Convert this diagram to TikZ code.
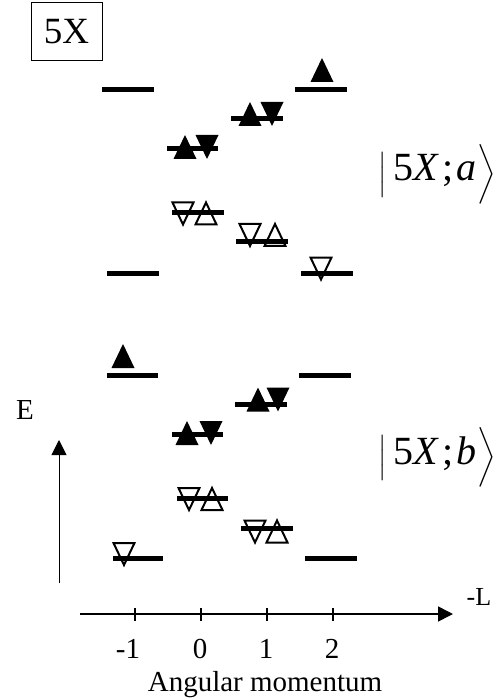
\documentclass[tikz,border=0pt]{standalone}
\usepackage{fontspec}
\usepackage{amsmath}
\setmainfont{Liberation Serif}
\usetikzlibrary{arrows.meta}
\newcommand\ketbar{$\left|\vrule height 29pt depth 10pt width 0pt\right.$\kern6pt}
\newcommand\ketend{$\left.\vrule height 34pt depth 14pt width 0pt\right\rangle$}
\begin{document}
\begin{tikzpicture}[x=1pt,y=-1pt,
  lvl/.style={line width=5pt},
  lab/.style={font=\fontsize{29}{30}\selectfont, inner sep=0pt, anchor=base},
  ket/.style={font=\fontsize{40}{42}\selectfont, inner sep=0pt, anchor=base west},
  upf/.pic={\fill (-11.5,12)--(11.5,12)--(0,-12)--cycle;},
  dnf/.pic={\fill (-11.5,-12)--(11.5,-12)--(0,12)--cycle;},
  upo/.pic={\draw[line width=2pt,line join=miter] (-10.5,11)--(10.5,11)--(0,-11)--cycle;},
  dno/.pic={\draw[line width=2pt,line join=miter] (-10.5,-11)--(10.5,-11)--(0,11)--cycle;},
  axis/.style={-{Triangle[width=15pt,length=15pt]}},
  tick/.style={line width=1.2pt}
]
\useasboundingbox (0,0) rectangle (503,700);

% title box
\node[draw, line width=1pt, minimum width=71pt, minimum height=58pt, inner sep=0pt,
      font=\fontsize{37}{38}\selectfont] (title) at (66.5,32) {5X};

% ---------- state a ----------
\draw[lvl] (102,90) -- (154,90);
\draw[lvl] (295,90) -- (347,90);
\pic at (322,70) {upf};
\draw[lvl] (231,119) -- (283,119);
\pic at (250,114) {upf};
\pic at (272,114) {dnf};
\draw[lvl] (167,149) -- (218,149);
\pic at (185,147) {upf};
\pic at (207,147) {dnf};
\draw[lvl] (172,213) -- (224,213);
\pic at (183,213.5) {dno};
\pic at (206,213.5) {upo};
\draw[lvl] (236,242) -- (288,242);
\pic at (250,235) {dno};
\pic at (275,235) {upo};
\draw[lvl] (107,273) -- (159,273);
\draw[lvl] (301,273) -- (353,273);
\pic at (321,268.5) {dno};

\node[ket] (keta) at (378,181) {\ketbar 5\textit{X}\kern3pt;\kern3pt\textit{a}\ketend};

% ---------- state b ----------
\draw[lvl] (107,375) -- (158,375);
\pic at (123,356) {upf};
\draw[lvl] (299,375) -- (351,375);
\draw[lvl] (235,404) -- (287,404);
\pic at (258,399.5) {upf};
\pic at (278,399.5) {dnf};
\draw[lvl] (172,434) -- (223,434);
\pic at (187,433) {upf};
\pic at (211,433) {dnf};
\draw[lvl] (177,498) -- (228,498);
\pic at (189,499) {dno};
\pic at (212,499) {upo};
\draw[lvl] (241,528) -- (293,528);
\pic at (255,531.5) {dno};
\pic at (277,531.5) {upo};
\draw[lvl] (113,558) -- (163,558);
\pic at (124,554) {dno};
\draw[lvl] (305,558) -- (357,558);

\node[ket] (ketb) at (378,464) {\ketbar 5\textit{X}\kern3pt;\kern3pt\textit{b}\ketend};

% ---------- axes ----------
\coordinate (ys) at (59,583);
\coordinate (ye) at (59,440);
\draw[axis, line width=1pt] (ys) -- (ye);
\node[lab] (E) at (25,419) {E};

\coordinate (xs) at (80,614);
\coordinate (xe) at (453,614);
\draw[axis, line width=1.5pt] (xs) -- (xe);
\node[inner sep=0pt, anchor=base, font=\fontsize{26}{28}\selectfont] (mL) at (479,605) {-L};

\draw[tick] (135,608) -- (135,621);
\draw[tick] (201,608) -- (201,621);
\draw[tick] (267,608) -- (267,621);
\draw[tick] (333,608) -- (333,621);

\node[lab] (tm1) at (128,658) {-1};
\node[lab] (t0) at (200,658) {0};
\node[lab] (t1) at (266,658) {1};
\node[lab] (t2) at (332,658) {2};
\node[lab] (xlabel) at (265,691) {Angular momentum};
\end{tikzpicture}
\end{document}
